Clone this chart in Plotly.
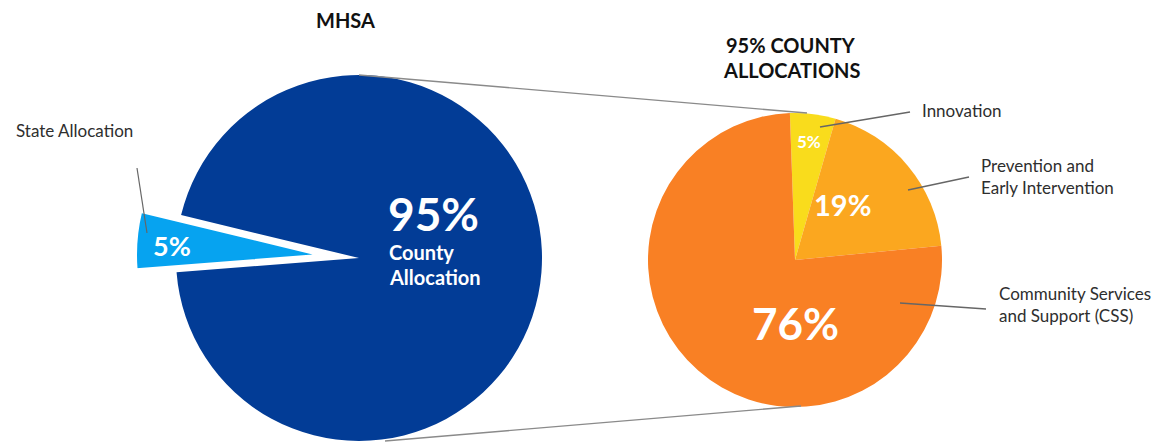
import plotly.graph_objects as go

# ---- data ----
mhsa_labels = ["State Allocation", "County Allocation"]
mhsa_values = [5, 95]
county_labels = ["Innovation", "Prevention and<br>Early Intervention", "Community Services<br>and Support (CSS)"]
county_values = [5, 19, 76]

# ---- styling / layout constants ----
OFF = 8  # page body margin of the html page
W, H = 1163 - OFF, 444 - OFF
FONT = "Lato"
BLUE = "#023C96"
LIGHT_BLUE = "#06A3F0"
YELLOW = "#F9DC1C"
AMBER = "#FBA71F"
ORANGE = "#F98024"
DARK = "#2e2e2e"
LINE = "#8a8a8a"

def px(x):
    return (x - OFF) / W

def py(y):
    return 1 - (y - OFF) / H

# left pie geometry (pixels in the screenshot)
L_CX, L_CY, L_R = 359, 258, 183
WEDGE_SHIFT = (-40, -3)
# right pie geometry
R_CX, R_CY, R_R = 795, 260, 147

def dom(cx, cy, r):
    return dict(x=[px(cx - r), px(cx + r)], y=[py(cy + r), py(cy - r)])

fig = go.Figure()

# main MHSA pie (state slice drawn white to leave a cut-out)
fig.add_trace(go.Pie(
    labels=mhsa_labels, values=mhsa_values, sort=False, direction="clockwise",
    rotation=-94.45, textinfo="none", hoverinfo="label+percent",
    marker=dict(colors=["white", BLUE], line=dict(color="white", width=0)),
    domain=dom(L_CX, L_CY, L_R),
))
# exploded state slice
fig.add_trace(go.Pie(
    labels=mhsa_labels, values=mhsa_values, sort=False, direction="clockwise",
    rotation=-94.45, textinfo="none", hoverinfo="label+percent",
    marker=dict(colors=[LIGHT_BLUE, "rgba(0,0,0,0)"],
                line=dict(color=["white", "rgba(0,0,0,0)"], width=2)),
    domain=dom(L_CX + WEDGE_SHIFT[0], L_CY + WEDGE_SHIFT[1], L_R),
))
# county allocations pie
fig.add_trace(go.Pie(
    labels=county_labels, values=county_values, sort=False, direction="clockwise",
    rotation=-2, textinfo="none", hoverinfo="label+percent",
    marker=dict(colors=[YELLOW, AMBER, ORANGE], line=dict(color="white", width=0)),
    domain=dom(R_CX, R_CY, R_R),
))

ann = []

def text(x, y, t, size, color=DARK, bold=False, xanchor="center"):
    s = f"<b>{t}</b>" if bold else t
    ann.append(dict(x=px(x), y=py(y), xref="paper", yref="paper", text=s,
                    showarrow=False, xanchor=xanchor, yanchor="middle", align="left",
                    font=dict(family=FONT, size=size, color=color)))

# titles
text(345, 20, "MHSA", 20, color="#111", bold=True)
text(791, 45, "95% COUNTY", 20, color="#111", bold=True)
text(792, 70, "ALLOCATIONS", 20, color="#111", bold=True)

# left pie labels
text(386, 213, f"{mhsa_values[1]}%", 46, color="white", bold=True, xanchor="left")
text(387, 252, "County", 20, color="white", bold=True, xanchor="left")
text(387, 277, "Allocation", 20, color="white", bold=True, xanchor="left")
text(172, 245, f"{mhsa_values[0]}%", 27, color="white", bold=True)
text(14, 130, mhsa_labels[0], 17, xanchor="left")

# right pie labels
text(809, 141, f"{county_values[0]}%", 17, color="white", bold=True)
text(843, 204, f"{county_values[1]}%", 29, color="white", bold=True)
text(795, 323, f"{county_values[2]}%", 44, color="white", bold=True)
text(920, 110, county_labels[0], 17, xanchor="left")
text(979, 176, county_labels[1], 17, xanchor="left")
text(997, 304, county_labels[2], 17, xanchor="left")

shapes = []

def seg(x0, y0, x1, y1, w=1.4, c=LINE):
    shapes.append(dict(type="line", xref="paper", yref="paper",
                       x0=px(x0), y0=py(y0), x1=px(x1), y1=py(y1),
                       line=dict(color=c, width=w)))

# connector lines between the pies
seg(L_CX, L_CY - L_R, 807, 113)
seg(385, L_CY + L_R, 801, 406)
# leader lines
seg(137, 168, 147, 233, w=1.2, c="#666")
seg(820, 127, 910, 112, w=1.4, c="#666")
seg(908, 190, 969, 177, w=1.4, c="#666")
seg(900, 303, 986, 309, w=1.4, c="#666")

fig.update_layout(
    width=W, height=H, margin=dict(l=0, r=0, t=0, b=0),
    paper_bgcolor="white", plot_bgcolor="white", showlegend=False,
    annotations=ann, shapes=shapes,
)

fig.write_html("out.html")
